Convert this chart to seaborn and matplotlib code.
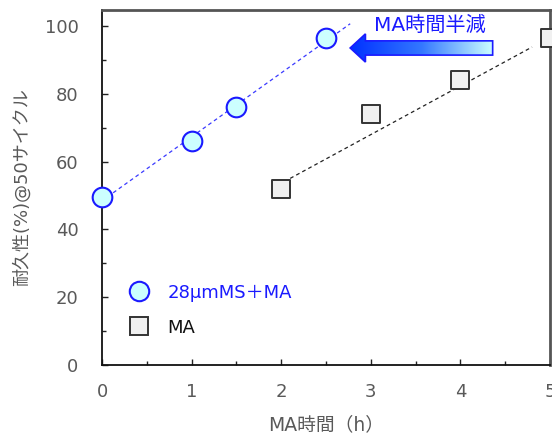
import matplotlib
matplotlib.use("Agg")
import matplotlib.pyplot as plt
import numpy as np
import pandas as pd
import seaborn as sns
from matplotlib.patches import FancyArrow
from matplotlib.lines import Line2D
from matplotlib.ticker import MultipleLocator

# data
ms_hours = [0, 1, 1.5, 2.5]
ms_durability = [49.5, 66, 76, 96.5]
ma_hours = [2, 3, 4, 5]
ma_durability = [52, 74, 84, 96.5]

ms_label = "28μmMS＋MA"
ma_label = "MA"

sns.set_style("white")
plt.rcParams['font.family'] = ['DejaVu Sans', 'Noto Sans CJK JP']

df_ms = pd.DataFrame({"h": ms_hours, "v": ms_durability})
df_ma = pd.DataFrame({"h": ma_hours, "v": ma_durability})

fig = plt.figure(figsize=(5.52, 4.37), dpi=100)
ax = fig.add_axes([102 / 552, 1 - 365 / 437, 448 / 552, 355 / 437])

# trend lines (least squares on the points)
k1, b1 = np.polyfit(ms_hours, ms_durability, 1)
t1 = np.array([0, 2.77])
sns.lineplot(x=t1, y=k1 * t1 + b1, ax=ax, color="#3a3aff", lw=0.9,
             linestyle=(0, (3, 2.5)), zorder=2)
k2, b2 = np.polyfit(ma_hours, ma_durability, 1)
t2 = np.array([2.1, 4.8])
sns.lineplot(x=t2, y=k2 * t2 + b2 - 1.5, ax=ax, color="#222222", lw=0.9,
             linestyle=(0, (3, 2.5)), zorder=2)

sns.scatterplot(data=df_ms, x="h", y="v", ax=ax, marker="o", s=200,
                color="#ccffff", edgecolor="#1a1aff", linewidth=1.5,
                zorder=4, clip_on=False)
sns.scatterplot(data=df_ma, x="h", y="v", ax=ax, marker="s", s=180,
                color="#f0f0f0", edgecolor="#333333", linewidth=1.4,
                zorder=4, clip_on=False)

ax.set_xlim(0, 5)
ax.set_ylim(0, 104.7)
ax.xaxis.set_major_locator(MultipleLocator(1))
ax.xaxis.set_minor_locator(MultipleLocator(0.5))
ax.yaxis.set_major_locator(MultipleLocator(20))
ax.yaxis.set_minor_locator(MultipleLocator(10))
ax.tick_params(which="both", direction="in", colors="#222222",
               labelcolor="#595959", labelsize=13)
ax.tick_params(which="major", length=4, width=1)
ax.tick_params(which="minor", length=3, width=1)
ax.tick_params(axis="y", which="both", left=True, pad=17)
ax.tick_params(axis="x", which="both", bottom=True, pad=13)

for side in ["left", "bottom"]:
    ax.spines[side].set_color("#111111")
    ax.spines[side].set_linewidth(1.3)
for side in ["top", "right"]:
    ax.spines[side].set_color("#555555")
    ax.spines[side].set_linewidth(2)

ax.set_xlabel("MA時間（h）", color="#595959", fontsize=13.5, labelpad=10)
ax.set_ylabel("耐久性(%)@50サイクル", color="#595959", fontsize=13, labelpad=10)

# legend
handles = [
    Line2D([], [], marker="o", ls="", ms=14, mfc="#ccffff", mec="#1a1aff", mew=1.5),
    Line2D([], [], marker="s", ms=13, ls="", mfc="#f0f0f0", mec="#333333", mew=1.4),
]
leg = ax.legend(handles, [ms_label, ma_label], loc="upper left",
                bbox_to_anchor=(0.005, 0.275), frameon=False, fontsize=13,
                handletextpad=0.6, labelspacing=0.95)
leg.get_texts()[0].set_color("#1a1aff")
leg.get_texts()[1].set_color("#111111")

# arrow annotation with gradient fill
arrow = FancyArrow(4.36, 93.5, -1.59, 0, width=4.2, head_width=8.3,
                   head_length=0.17, length_includes_head=True,
                   transform=ax.transData, facecolor="none",
                   edgecolor="#1a1aff", lw=1.2, zorder=5)
ax.add_patch(arrow)
grad = np.linspace(0, 1, 256).reshape(1, -1)
cmap = matplotlib.colors.LinearSegmentedColormap.from_list(
    "g", ["#0030ff", "#3377ff", "#ccffff"])
im = ax.imshow(grad, extent=[2.77, 4.36, 89, 98], aspect="auto",
               cmap=cmap, zorder=4.5)
im.set_clip_path(arrow)
ax.set_xlim(0, 5)
ax.set_ylim(0, 104.7)
ax.text(3.66, 100.2, "MA時間半減", color="#1a1aff", fontsize=14.5,
        ha="center", va="center", zorder=6)

fig.savefig("out.png", dpi=100)
